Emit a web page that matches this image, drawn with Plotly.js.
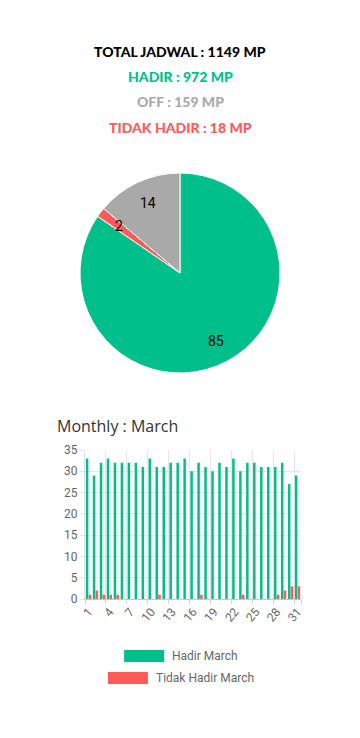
<!DOCTYPE html>
<html>
<head>
<meta charset="utf-8">
<script src="https://cdn.plot.ly/plotly-3.0.1.min.js"></script>
<style>
html,body{margin:0;padding:0;background:#fff;}
#chart{width:360px;height:738px;}
</style>
</head>
<body>
<div id="chart"></div>
<script>
// ---- data ----
const pieLabels = ["Hadir", "Tidak Hadir", "Off"];
const pieValues = [972, 18, 159];
const totalJadwal = 1149;
const days = ["1","2","3","4","5","6","7","8","9","10","11","12","13","14","15","16","17","18","19","20","21","22","23","24","25","26","27","28","29","30","31"];
const hadirMarch = [33,29,32,33,32,32,32,32,31,33,31,31,32,32,33,30,32,31,30,32,31,33,30,32,32,31,31,31,32,27,29];
const tidakHadirMarch = [1,2,1,1,1,0,0,0,0,0,1,0,0,0,0,0,1,0,0,0,0,0,1,0,0,0,0,1,2,3,3];
const tickDays = ["1","4","7","10","13","16","19","22","25","28","31"];
const monthName = "March";

const GREEN = "#00bf8a";
const RED = "#ff5a5a";
const GREY = "#a9a9a9";

const W = 360, H = 738;
const px = x => x / W;
const py = y => 1 - y / H;

// pie geometry (pixels)
const PIE_CX = 180, PIE_CY = 273, PIE_R = 100;

const pieSum = pieValues.reduce((a,b)=>a+b,0);
const pieText = pieValues.map(v => String(Math.round(v / pieSum * 100)));

const traces = [
  {
    type: "pie",
    labels: pieLabels,
    values: pieValues,
    textinfo: "none",
    marker: {colors: [GREEN, RED, GREY], line: {color: "#fff", width: 1}},
    sort: false,
    direction: "clockwise",
    rotation: 0,
    hoverinfo: "none",
    showlegend: false,
    domain: {x: [px(PIE_CX - PIE_R), px(PIE_CX + PIE_R)], y: [py(PIE_CY + PIE_R), py(PIE_CY - PIE_R)]}
  },
  {
    type: "bar",
    name: "Hadir " + monthName,
    x: days,
    y: hadirMarch,
    marker: {color: GREEN},
    xaxis: "x",
    yaxis: "y",
    showlegend: false,
    hoverinfo: "none"
  },
  {
    type: "bar",
    name: "Tidak Hadir " + monthName,
    x: days,
    y: tidakHadirMarch,
    marker: {color: RED},
    xaxis: "x",
    yaxis: "y",
    showlegend: false,
    hoverinfo: "none"
  }
];

const headerFont = "Lato, 'Open Sans', sans-serif";
const annotations = [
  {text: "TOTAL JADWAL : " + totalJadwal + " MP", color: "#000", y: 52},
  {text: "HADIR : " + pieValues[0] + " MP", color: GREEN, y: 77},
  {text: "OFF : " + pieValues[2] + " MP", color: GREY, y: 102},
  {text: "TIDAK HADIR : " + pieValues[1] + " MP", color: RED, y: 127}
].map(a => ({
  text: a.text, xref: "paper", yref: "paper", x: 0.5, y: py(a.y),
  xanchor: "center", yanchor: "middle", showarrow: false,
  font: {family: headerFont, size: 14, color: a.color, weight: 900}
}));

// pie percentage labels at ~3/4 radius on each slice bisector
let cum = 0;
pieValues.forEach((v, i) => {
  const mid = (cum + v / 2) / pieSum;
  cum += v;
  const th = mid * 2 * Math.PI;
  const r = 0.77 * PIE_R;
  annotations.push({
    text: pieText[i], xref: "paper", yref: "paper",
    x: px(PIE_CX + r * Math.sin(th)), y: py(PIE_CY - r * Math.cos(th)),
    xanchor: "center", yanchor: "middle", showarrow: false,
    font: {family: "Roboto", size: 14, color: "#000"}
  });
});

annotations.push({
  text: "Monthly : " + monthName, xref: "paper", yref: "paper",
  x: px(55), y: py(426), xanchor: "left", yanchor: "middle", showarrow: false,
  font: {family: "'Open Sans', sans-serif", size: 16, color: "#333"}
});

// custom legend (Chart.js style boxes), centred line by line
const cnv = document.createElement("canvas").getContext("2d");
cnv.font = "12px Roboto";
const legendItems = [
  {name: traces[1].name, color: GREEN, y: 656},
  {name: traces[2].name, color: RED, y: 678}
];
const shapes = [];
legendItems.forEach(it => {
  const textW = cnv.measureText(it.name).width;
  const total = 40 + 6 + textW;
  const x0 = 180 - total / 2;
  shapes.push({type: "rect", xref: "paper", yref: "paper",
    x0: px(x0), x1: px(x0 + 40), y0: py(it.y + 6), y1: py(it.y - 6),
    fillcolor: it.color, line: {width: 0}});
  annotations.push({text: it.name, xref: "paper", yref: "paper",
    x: px(x0 + 46), y: py(it.y), xanchor: "left", yanchor: "middle", showarrow: false,
    font: {family: "Roboto", size: 12, color: "#666"}});
});

const layout = {
  width: W, height: H,
  margin: {l: 0, r: 0, t: 0, b: 0},
  paper_bgcolor: "#fff", plot_bgcolor: "#fff",
  showlegend: false,
  barmode: "group",
  bargap: 0.2,
  bargroupgap: 0.1,
  xaxis: {
    type: "category",
    domain: [px(85), px(301)],
    anchor: "y",
    tickvals: tickDays,
    ticktext: tickDays,
    tickson: "boundaries",
    tickangle: -50,
    showgrid: true,
    gridcolor: "#e6e6e6",
    gridwidth: 1,
    showline: true,
    linecolor: "#c8c8c8",
    linewidth: 1,
    ticks: "outside",
    ticklen: 4,
    tickcolor: "#d6d6d6",
    tickfont: {family: "Roboto", size: 12, color: "#666"},
    fixedrange: true
  },
  yaxis: {
    domain: [py(599), py(450)],
    anchor: "x",
    range: [0, 35],
    dtick: 5,
    tick0: 0,
    showgrid: true,
    gridcolor: "#e6e6e6",
    zeroline: false,
    showline: true,
    linecolor: "#e0e0e0",
    ticks: "outside",
    ticklen: 4,
    tickcolor: "#e6e6e6",
    tickfont: {family: "Roboto", size: 12, color: "#666"},
    fixedrange: true
  },
  annotations: annotations,
  shapes: shapes
};

Plotly.newPlot("chart", traces, layout, {displayModeBar: false, staticPlot: true});
</script>
</body>
</html>
